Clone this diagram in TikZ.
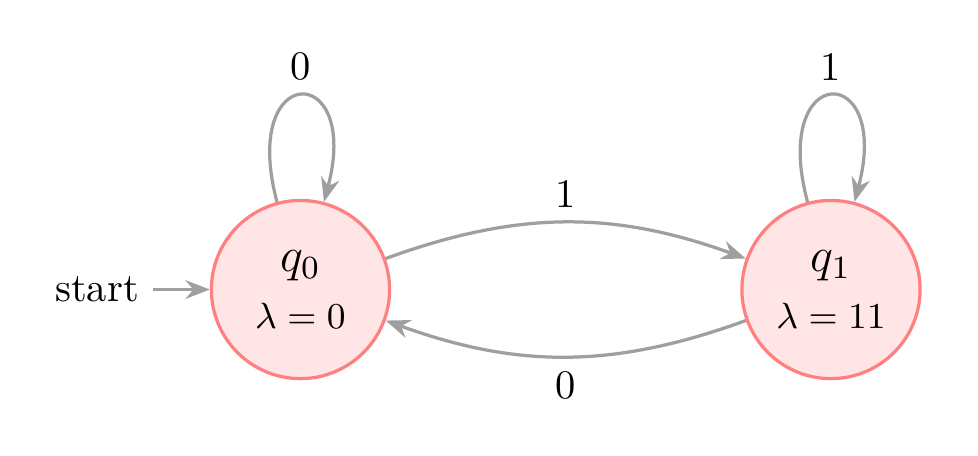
\documentclass[tikz,border=0pt]{standalone}
\usetikzlibrary{arrows.meta,positioning}

\tikzset{
    state/.style={circle, draw=red!50, fill=red!10, thick, minimum size=44pt, inner sep=0pt, align=center},
    trans/.style={->, >={Stealth[length=6pt,width=4.6pt]}, draw=gray!75, thick}
}

\begin{document}
\begin{tikzpicture}
    \useasboundingbox (-74.2pt,-40.9pt) rectangle (167.3pt,71.5pt);

    \node (q0) at (0,0) [state] {{\large $q_0$}\\[2pt] {\small $\lambda = 0$}};
    \node (q1) at (131pt,0) [state] {{\large $q_1$}\\[2pt] {\small $\lambda = 11$}};
    \node (start) [left=14pt of q0] {start};

    \draw [trans] (start) -- (q0);
    \draw [trans] (q0) to [loop above] node [above] {0} (q0);
    \draw [trans] (q1) to [loop above] node [above] {1} (q1);
    \draw [trans] (q0) to [bend left=20] node [above] {1} (q1);
    \draw [trans] (q1) to [bend left=20] node [below] {0} (q0);
\end{tikzpicture}
\end{document}
